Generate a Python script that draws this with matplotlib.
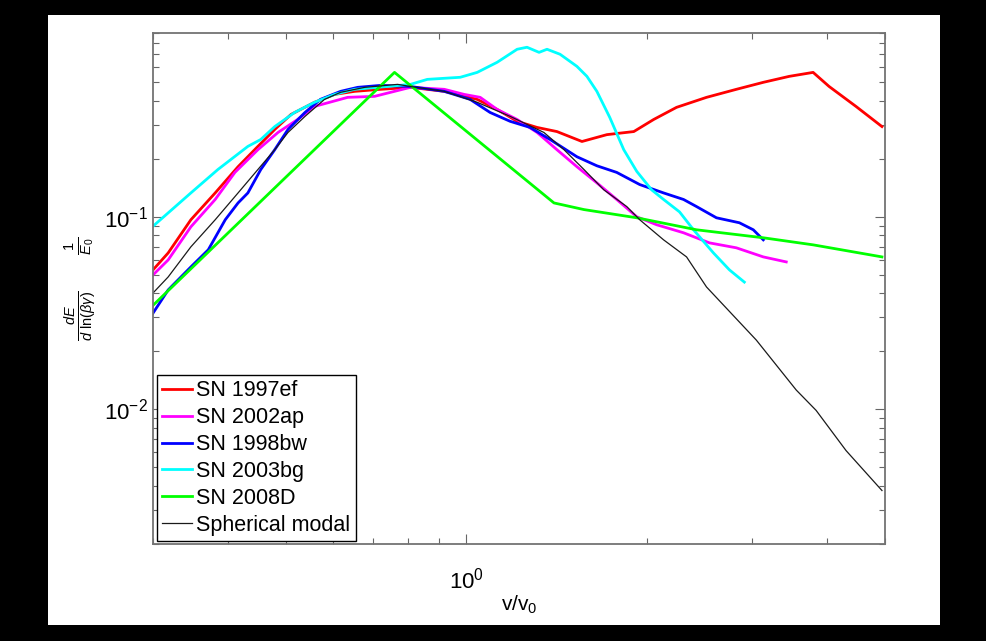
import matplotlib
matplotlib.use("Agg")
import matplotlib.pyplot as plt
import matplotlib.ticker as mticker
from matplotlib.patches import Rectangle

plt.rcParams['font.family'] = ['Liberation Sans', 'DejaVu Sans']
plt.rcParams['mathtext.fontset'] = 'custom'
plt.rcParams['mathtext.rm'] = 'Liberation Sans'
plt.rcParams['mathtext.it'] = 'Liberation Sans:italic'

# --- data (log-log) ---
sn97ef_x = [0.300, 0.318, 0.347, 0.381, 0.416, 0.449, 0.479, 0.510, 0.558, 0.603, 0.651, 0.719,
            0.807, 0.919, 1.043, 1.126, 1.216, 1.313, 1.417, 1.560, 1.717, 1.904, 2.055, 2.244,
            2.518, 2.824, 3.132, 3.461, 3.793, 4.033, 4.473, 4.942]
sn97ef_y = [0.0530, 0.0649, 0.0965, 0.133, 0.182, 0.232, 0.284, 0.340, 0.393, 0.432, 0.448, 0.459,
            0.470, 0.448, 0.407, 0.361, 0.313, 0.291, 0.277, 0.246, 0.267, 0.277, 0.320, 0.370,
            0.417, 0.459, 0.499, 0.536, 0.562, 0.475, 0.374, 0.294]

sn02ap_x = [0.300, 0.318, 0.347, 0.381, 0.411, 0.449, 0.485, 0.523, 0.558, 0.634, 0.703, 0.807,
            0.919, 0.992, 1.055, 1.126, 1.216, 1.313, 1.417, 1.530, 1.652, 1.783, 1.926, 2.079,
            2.305, 2.547, 2.824, 3.132, 3.421]
sn02ap_y = [0.0499, 0.0597, 0.0887, 0.123, 0.170, 0.223, 0.274, 0.320, 0.374, 0.417, 0.422, 0.470,
            0.459, 0.432, 0.417, 0.361, 0.320, 0.274, 0.223, 0.182, 0.150, 0.123, 0.100, 0.0909,
            0.0826, 0.0732, 0.0690, 0.0619, 0.0583]

sn98bw_x = [0.300, 0.318, 0.347, 0.371, 0.396, 0.416, 0.432, 0.454, 0.479, 0.504, 0.538, 0.571,
            0.617, 0.659, 0.719, 0.807, 0.919, 1.015, 1.096, 1.184, 1.278, 1.380, 1.530, 1.652,
            1.783, 1.948, 2.135, 2.305, 2.423, 2.616, 2.857, 3.014, 3.132]
sn98bw_y = [0.0316, 0.0417, 0.0549, 0.0674, 0.0965, 0.118, 0.133, 0.176, 0.223, 0.284, 0.348, 0.407,
            0.448, 0.470, 0.481, 0.475, 0.448, 0.407, 0.348, 0.313, 0.291, 0.252, 0.205, 0.184,
            0.170, 0.147, 0.133, 0.123, 0.113, 0.0988, 0.0931, 0.0856, 0.0759]

sn03bg_x = [0.298, 0.347, 0.385, 0.432, 0.454, 0.479, 0.517, 0.558, 0.603, 0.651, 0.711, 0.807,
            0.861, 0.977, 1.043, 1.126, 1.216, 1.263, 1.323, 1.364, 1.434, 1.530, 1.590, 1.652,
            1.736, 1.832, 1.926, 2.039, 2.135, 2.270, 2.395, 2.586, 2.750, 2.912]
sn03bg_y = [0.0877, 0.133, 0.176, 0.232, 0.252, 0.294, 0.348, 0.393, 0.432, 0.459, 0.470, 0.487,
            0.517, 0.530, 0.562, 0.634, 0.741, 0.759, 0.714, 0.741, 0.698, 0.604, 0.536, 0.448,
            0.328, 0.223, 0.172, 0.138, 0.123, 0.106, 0.0856, 0.0649, 0.0530, 0.0458]

sn08d_x = [0.298, 0.759, 1.401, 1.572, 1.926, 2.423, 3.132, 3.793, 4.942]
sn08d_y = [0.0340, 0.562, 0.118, 0.109, 0.0988, 0.0856, 0.0778, 0.0715, 0.0619]

model_x = [0.300, 0.318, 0.347, 0.381, 0.416, 0.449, 0.479, 0.504, 0.538, 0.580, 0.617, 0.677,
           0.768, 0.807, 0.919, 1.043, 1.184, 1.348, 1.456, 1.572, 1.697, 1.853, 1.948, 2.135,
           2.332, 2.518, 3.049, 3.555, 3.837, 4.305, 4.942]
model_y = [0.0402, 0.0487, 0.0698, 0.0965, 0.133, 0.176, 0.223, 0.274, 0.332, 0.407, 0.443, 0.470,
           0.487, 0.475, 0.448, 0.393, 0.332, 0.274, 0.223, 0.176, 0.138, 0.113, 0.0965, 0.0759,
           0.0619, 0.0432, 0.0229, 0.0126, 0.00988, 0.00611, 0.00379]

fig = plt.figure(figsize=(9.87, 6.41), dpi=100, facecolor='black')
# white page area inside the black frame
page = Rectangle((48 / 987, 1 - 625 / 641), (940 - 48) / 987, (625 - 15) / 641,
                 transform=fig.transFigure, facecolor='white', edgecolor='none', zorder=-10)
fig.add_artist(page)

ax = fig.add_axes([153 / 987, 1 - 544 / 641, (885 - 153) / 987, (544 - 33) / 641])
ax.set_zorder(1)
ax.set_xscale('log')
ax.set_yscale('log')

ax.plot(sn97ef_x, sn97ef_y, color=(1, 0, 0), lw=2, label='SN 1997ef')
ax.plot(sn02ap_x, sn02ap_y, color=(1, 0, 1), lw=2, label='SN 2002ap')
ax.plot(sn98bw_x, sn98bw_y, color=(0, 0, 1), lw=2, label='SN 1998bw')
ax.plot(sn03bg_x, sn03bg_y, color=(0, 1, 1), lw=2, label='SN 2003bg')
ax.plot(sn08d_x, sn08d_y, color=(0, 1, 0), lw=2, label='SN 2008D')
ax.plot(model_x, model_y, color='0.1', lw=0.9, label='Spherical modal')

ax.set_xlim(0.3, 5)
ax.set_ylim(0.002, 0.9)

ax.xaxis.set_minor_formatter(mticker.NullFormatter())
ax.yaxis.set_minor_formatter(mticker.NullFormatter())
ax.tick_params(which='both', direction='in', top=True, right=True, colors='0.4',
               labelcolor='black', labelsize=16)
ax.tick_params(which='major', length=7, width=0.8)
ax.tick_params(axis='x', pad=17)
ax.tick_params(axis='y', pad=4)
ax.tick_params(which='minor', length=4, width=0.8)
for s in ax.spines.values():
    s.set_color('0.45')
    s.set_linewidth(1.3)

ax.set_xlabel(r'v/v$_0$', fontsize=15, labelpad=0)
ax.set_ylabel(r'$\frac{dE}{d\ \ln(\beta\gamma)}\qquad\frac{1}{E_0}$', fontsize=15, labelpad=4)

leg = ax.legend(loc='lower left', bbox_to_anchor=(0.005, 0.006), borderaxespad=0,
                fontsize=15.5, fancybox=False, edgecolor='black', framealpha=1,
                handlelength=1.4, handletextpad=0.2, labelspacing=0.27, borderpad=0.25)
leg.get_frame().set_linewidth(1.0)

fig.savefig('out.png', dpi=100, facecolor='black')
